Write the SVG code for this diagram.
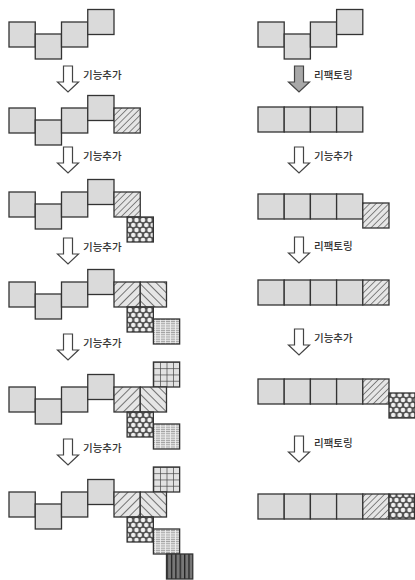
<svg xmlns="http://www.w3.org/2000/svg" width="415" height="580" viewBox="0 0 415 580">
<defs>
<pattern id="hatchF" width="4.5" height="4.5" patternUnits="userSpaceOnUse" patternTransform="rotate(45)"><rect width="4.5" height="4.5" fill="#e6e6e6"/><line x1="0" y1="0" x2="0" y2="4.5" stroke="#333" stroke-width="1.1"/></pattern>
<pattern id="diagF" width="6" height="6" patternUnits="userSpaceOnUse" patternTransform="rotate(45)"><rect width="6" height="6" fill="#e6e6e6"/><line x1="0" y1="0" x2="0" y2="6" stroke="#333" stroke-width="1.3"/></pattern>
<pattern id="diagB" width="6" height="6" patternUnits="userSpaceOnUse" patternTransform="rotate(-45)"><rect width="6" height="6" fill="#e6e6e6"/><line x1="0" y1="0" x2="0" y2="6" stroke="#333" stroke-width="1.3"/></pattern>
<pattern id="cross" width="6.5" height="10" patternUnits="userSpaceOnUse"><rect width="6.5" height="10" fill="#505050"/><g fill="#f0f0f0"><circle cx="0" cy="0" r="2.3"/><circle cx="6.5" cy="0" r="2.3"/><circle cx="0" cy="10" r="2.3"/><circle cx="6.5" cy="10" r="2.3"/><circle cx="3.25" cy="5" r="2.3"/></g></pattern>
<pattern id="fine" width="5" height="2.2" patternUnits="userSpaceOnUse"><rect width="5" height="2.2" fill="#dadada"/><line x1="0" y1="0.3" x2="5" y2="0.3" stroke="#8a8a8a" stroke-width="0.7"/><line x1="0.5" y1="0" x2="0.5" y2="2.2" stroke="#f4f4f4" stroke-width="0.8"/></pattern>
<pattern id="grid" width="0.25" height="0.25" patternUnits="objectBoundingBox"><rect width="7" height="7" fill="#e2e2e2"/><path d="M0,0H7M0,0V7" stroke="#444" stroke-width="1.4" fill="none"/></pattern>
<pattern id="dark" width="0.1667" height="1" patternUnits="objectBoundingBox"><rect width="5" height="26" fill="#777"/><line x1="0.6" y1="0" x2="0.6" y2="26" stroke="#222" stroke-width="1.4"/></pattern>
</defs>
<style>
.sq{fill:#dadada;stroke:#333;stroke-width:1.3}
.ht{fill:url(#hatchF);stroke:#333;stroke-width:1.3}
.df{fill:url(#diagF);stroke:#333;stroke-width:1.3}
.db{fill:url(#diagB);stroke:#333;stroke-width:1.3}
.cx{fill:url(#cross);stroke:#333;stroke-width:1.3}
.fg{fill:url(#fine);stroke:#333;stroke-width:1.3}
.gd{fill:url(#grid);stroke:#333;stroke-width:1.3}
.dk{fill:url(#dark);stroke:#333;stroke-width:1.3}
.arr{fill:#fff;stroke:#444;stroke-width:1.2;stroke-linejoin:miter}
.arrg{fill:#a8a8a8;stroke:#444;stroke-width:1.2}
.lbl{font-family:"Noto Sans CJK KR","Noto Sans",sans-serif;font-size:10.5px;font-weight:500;fill:#333}
</style>
<rect width="415" height="580" fill="#fff"/>
<g id="L1">
<rect class="sq" x="9" y="22" width="26.25" height="25"/><rect class="sq" x="35.25" y="34" width="26.25" height="25"/><rect class="sq" x="61.5" y="22" width="26.25" height="25"/><rect class="sq" x="87.75" y="9.5" width="26.25" height="25"/>
</g>
<g id="L2">
<rect class="sq" x="9" y="108" width="26.25" height="25"/><rect class="sq" x="35.25" y="120" width="26.25" height="25"/><rect class="sq" x="61.5" y="108" width="26.25" height="25"/><rect class="sq" x="87.75" y="95.5" width="26.25" height="25"/>
<rect class="ht" x="114" y="108" width="26.25" height="25"/>
</g>
<g id="L3">
<rect class="sq" x="9" y="192" width="26.25" height="25"/><rect class="sq" x="35.25" y="204" width="26.25" height="25"/><rect class="sq" x="61.5" y="192" width="26.25" height="25"/><rect class="sq" x="87.75" y="179.5" width="26.25" height="25"/>
<rect class="ht" x="114" y="192" width="26.25" height="25"/><rect class="cx" x="127.1" y="217" width="26.25" height="25"/>
</g>
<g id="L4">
<rect class="sq" x="9" y="282" width="26.25" height="25"/><rect class="sq" x="35.25" y="294" width="26.25" height="25"/><rect class="sq" x="61.5" y="282" width="26.25" height="25"/><rect class="sq" x="87.75" y="269.5" width="26.25" height="25"/>
<rect class="df" x="114" y="282" width="26.25" height="25"/><rect class="db" x="140.25" y="282" width="26.25" height="25"/><rect class="cx" x="127.1" y="307" width="26.25" height="25"/><rect class="fg" x="153.4" y="319" width="26.25" height="25"/>
</g>
<g id="L5">
<rect class="sq" x="9" y="387" width="26.25" height="25"/><rect class="sq" x="35.25" y="399" width="26.25" height="25"/><rect class="sq" x="61.5" y="387" width="26.25" height="25"/><rect class="sq" x="87.75" y="374.5" width="26.25" height="25"/>
<rect class="gd" x="153.4" y="362" width="26.25" height="25"/><rect class="df" x="114" y="387" width="26.25" height="25"/><rect class="db" x="140.25" y="387" width="26.25" height="25"/><rect class="cx" x="127.1" y="412" width="26.25" height="25"/><rect class="fg" x="153.4" y="424" width="26.25" height="25"/>
</g>
<g id="L6">
<rect class="sq" x="9" y="492" width="26.25" height="25"/><rect class="sq" x="35.25" y="504" width="26.25" height="25"/><rect class="sq" x="61.5" y="492" width="26.25" height="25"/><rect class="sq" x="87.75" y="479.5" width="26.25" height="25"/>
<rect class="gd" x="153.4" y="467" width="26.25" height="25"/><rect class="df" x="114" y="492" width="26.25" height="25"/><rect class="db" x="140.25" y="492" width="26.25" height="25"/><rect class="cx" x="127.1" y="517" width="26.25" height="25"/><rect class="fg" x="153.4" y="529" width="26.25" height="25"/><rect class="dk" x="166.5" y="554" width="26.25" height="25"/>
</g>
<g id="R1">
<rect class="sq" x="258" y="22" width="26.2" height="25"/><rect class="sq" x="284.2" y="34" width="26.2" height="25"/><rect class="sq" x="310.4" y="22" width="26.2" height="25"/><rect class="sq" x="336.6" y="9.5" width="26.2" height="25"/>
</g>
<g id="R2">
<rect class="sq" x="258" y="107" width="26.2" height="25"/><rect class="sq" x="284.2" y="107" width="26.2" height="25"/><rect class="sq" x="310.4" y="107" width="26.2" height="25"/><rect class="sq" x="336.6" y="107" width="26.2" height="25"/>
</g>
<g id="R3">
<rect class="sq" x="258" y="194" width="26.2" height="25"/><rect class="sq" x="284.2" y="194" width="26.2" height="25"/><rect class="sq" x="310.4" y="194" width="26.2" height="25"/><rect class="sq" x="336.6" y="194" width="26.2" height="25"/>
<rect class="ht" x="362.8" y="203" width="26.2" height="25"/>
</g>
<g id="R4">
<rect class="sq" x="258" y="280" width="26.2" height="25"/><rect class="sq" x="284.2" y="280" width="26.2" height="25"/><rect class="sq" x="310.4" y="280" width="26.2" height="25"/><rect class="sq" x="336.6" y="280" width="26.2" height="25"/>
<rect class="ht" x="362.8" y="280" width="26.2" height="25"/>
</g>
<g id="R5">
<rect class="sq" x="258" y="379" width="26.2" height="25"/><rect class="sq" x="284.2" y="379" width="26.2" height="25"/><rect class="sq" x="310.4" y="379" width="26.2" height="25"/><rect class="sq" x="336.6" y="379" width="26.2" height="25"/>
<rect class="ht" x="362.8" y="379" width="26.2" height="25"/><rect class="cx" x="389" y="393" width="26" height="25"/>
</g>
<g id="R6">
<rect class="sq" x="258" y="494" width="26.2" height="25"/><rect class="sq" x="284.2" y="494" width="26.2" height="25"/><rect class="sq" x="310.4" y="494" width="26.2" height="25"/><rect class="sq" x="336.6" y="494" width="26.2" height="25"/>
<rect class="ht" x="362.8" y="494" width="26.2" height="25"/><rect class="cx" x="389" y="494" width="25.5" height="25"/>
</g>
<g id="connectors">
<path class="arr" d="M63.5,66H72.5V82H78.5L68,92L57.5,82H63.5Z"/>
<text class="lbl" x="83" y="79">기능추가</text>
<path class="arr" d="M63.5,147H72.5V163H78.5L68,173L57.5,163H63.5Z"/>
<text class="lbl" x="83" y="160">기능추가</text>
<path class="arr" d="M63.5,238H72.5V254H78.5L68,264L57.5,254H63.5Z"/>
<text class="lbl" x="83" y="251">기능추가</text>
<path class="arr" d="M63.5,334H72.5V350H78.5L68,360L57.5,350H63.5Z"/>
<text class="lbl" x="83" y="347">기능추가</text>
<path class="arr" d="M63.5,439H72.5V455H78.5L68,465L57.5,455H63.5Z"/>
<text class="lbl" x="83" y="452">기능추가</text>
<path class="arrg" d="M294.5,66H303.5V82H309.5L299,92L288.5,82H294.5Z"/>
<text class="lbl" x="314" y="79">리팩토링</text>
<path class="arr" d="M294.5,147H303.5V163H309.5L299,173L288.5,163H294.5Z"/>
<text class="lbl" x="314" y="160">기능추가</text>
<path class="arr" d="M294.5,237H303.5V253H309.5L299,263L288.5,253H294.5Z"/>
<text class="lbl" x="314" y="250">리팩토링</text>
<path class="arr" d="M294.5,329H303.5V345H309.5L299,355L288.5,345H294.5Z"/>
<text class="lbl" x="314" y="342">기능추가</text>
<path class="arr" d="M294.5,436H303.5V452H309.5L299,462L288.5,452H294.5Z"/>
<text class="lbl" x="314" y="447">리팩토링</text>
</g>
</svg>
